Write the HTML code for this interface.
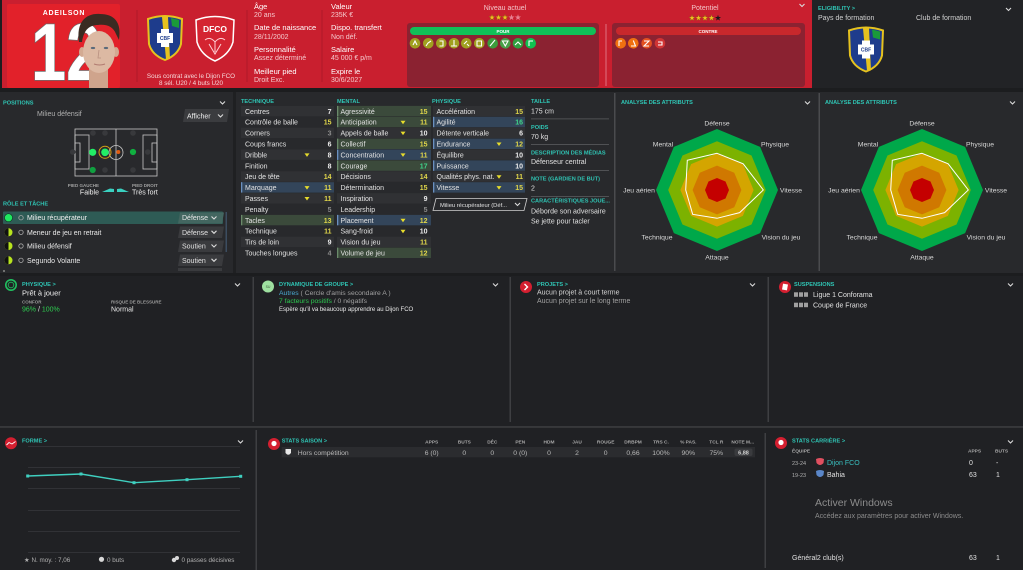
<!DOCTYPE html>
<html><head><meta charset="utf-8">
<style>
html,body{margin:0;padding:0;background:#1c1d1f;width:1023px;height:570px;overflow:hidden}
svg{display:block;font-family:"Liberation Sans","DejaVu Sans",sans-serif}
.t{fill:#2fc4b4;font-weight:bold;font-size:5.6px}
.a{font-size:7px;fill:#e2e2e2}
.v{font-size:7px;text-anchor:end;font-weight:bold}
.vw{fill:#ececec}.vy{fill:#e0d64a}.vg{fill:#3fd58a}.vx{fill:#8c8c8c}
.hl{font-size:7.5px;fill:#ffffff}
.hv{font-size:7px;fill:#f5c8cc}
.rl{font-size:6.8px;fill:#d8d8d8;text-anchor:middle}
.sh{font-size:4.8px;font-weight:bold;fill:#a8a8a8;text-anchor:middle}
.sv{font-size:6.8px;fill:#b8b8b8;text-anchor:middle}
.ch{fill:none;stroke:#dcdcdc;stroke-width:1.1}
</style></head><body>
<svg width="1023" height="570" viewBox="0 0 1023 570">
<defs>
<path id="st" d="M0,-3.2 L0.76,-1.05 L3.04,-0.99 L1.24,0.4 L1.88,2.59 L0,1.3 L-1.88,2.59 L-1.24,0.4 L-3.04,-0.99 L-0.76,-1.05Z"/>
<clipPath id="half"><rect x="508" y="12" width="3.5" height="12"/></clipPath>
</defs>
<rect x="0" y="0" width="1023" height="570" fill="#1c1d1f"/>

<!-- HEADER -->
<rect x="2" y="0" width="808" height="88" fill="#c91f2f"/>
<rect x="7" y="4" width="113" height="84" rx="2" fill="#e2212a"/>
<text x="64" y="15" text-anchor="middle" font-size="7" font-weight="bold" letter-spacing="0.8" fill="#ffffff">ADEILSON</text>
<text transform="translate(31,80) scale(0.78,1)" font-size="81" font-weight="bold" fill="#ffffff" stroke="#6b6b6b" stroke-width="1.5" paint-order="stroke">12</text>
<!-- face -->
<rect x="89" y="66" width="19" height="22" fill="#cfa48c"/>
<ellipse cx="82" cy="52" rx="3" ry="5" fill="#d3aa92"/>
<ellipse cx="116" cy="52" rx="3" ry="5" fill="#d3aa92"/>
<ellipse cx="99" cy="52" rx="16" ry="21" fill="#dcb9a3"/>
<path d="M79,42 C76,22 86,13 100,14 C114,14 122,22 119,40 L116,34 C113,26 106,24 98,25 C90,25 84,29 82,42 Z" fill="#3a2b22"/>
<ellipse cx="93" cy="48" rx="2.2" ry="1.1" fill="#5a6a7a"/>
<ellipse cx="106" cy="48" rx="2.2" ry="1.1" fill="#5a6a7a"/>
<path d="M99,50 L98,58 L101,58" fill="none" stroke="#b89080" stroke-width="0.8"/>
<path d="M94,64 Q99.5,66 105,64" fill="none" stroke="#b07a70" stroke-width="1"/>
<!-- separators -->
<rect x="136.5" y="10" width="1" height="72" fill="#b01a28"/>
<rect x="246.5" y="10" width="1" height="72" fill="#b01a28"/>
<rect x="321.5" y="10" width="1" height="72" fill="#b01a28"/>
<!-- Brazil crest -->
<g transform="translate(165,38)">
<path d="M-17,-19 Q0,-25 17,-19 L16,6 Q13,17 0,22 Q-13,17 -16,6 Z" fill="#1e3c8c" stroke="#e6c21e" stroke-width="2"/>
<path d="M-3,-21 L3,-21 L5,21 L1,21 Z" fill="#e6c21e"/>
<path d="M6,-20 L14,-18 L14,-10 L7,-12 Z" fill="#1a9a3a"/>
<rect x="-8" y="-5" width="16" height="10" fill="#ffffff"/>
<rect x="-4" y="-9" width="8" height="18" fill="#ffffff"/>
<text x="0" y="2" text-anchor="middle" font-size="5" font-weight="bold" fill="#1e3c8c">CBF</text>
</g>
<!-- Dijon crest -->
<g transform="translate(215,38)">
<path d="M-19,-18 Q0,-25 19,-18 L18,4 Q14,17 0,23 Q-14,17 -18,4 Z" fill="#d42431" stroke="#ffffff" stroke-width="1.5"/>
<text x="0" y="-6" text-anchor="middle" font-size="8.5" font-weight="bold" fill="#ffffff">DFCO</text>
<path d="M-10,2 Q-5,-2 0,4 Q5,-2 10,2 M-6,6 L0,16 L6,6 M0,4 L0,14" fill="none" stroke="#ffd0d4" stroke-width="1"/>
</g>
<text x="191" y="78" text-anchor="middle" font-size="6.3" fill="#f6d8da">Sous contrat avec le Dijon FCO</text>
<text x="191" y="85" text-anchor="middle" font-size="6.3" fill="#f6d8da">8 sél. U20 / 4 buts U20</text>
<!-- info columns -->
<text x="254" y="9" class="hl">Âge</text>
<text x="254" y="17" class="hv">20 ans</text>
<text x="254" y="30" class="hl">Date de naissance</text>
<text x="254" y="39" class="hv">28/11/2002</text>
<text x="254" y="52" class="hl">Personnalité</text>
<text x="254" y="60" class="hv">Assez déterminé</text>
<text x="254" y="74" class="hl">Meilleur pied</text>
<text x="254" y="82" class="hv">Droit Exc.</text>
<text x="331" y="9" class="hl">Valeur</text>
<text x="331" y="17" class="hv">235K €</text>
<text x="331" y="30" class="hl">Dispo. transfert</text>
<text x="331" y="39" class="hv">Non déf.</text>
<text x="331" y="52" class="hl">Salaire</text>
<text x="331" y="60" class="hv">45 000 € p/m</text>
<text x="331" y="74" class="hl">Expire le</text>
<text x="331" y="82" class="hv">30/6/2027</text>
<!-- Niveau / Potentiel -->
<text x="505" y="10" text-anchor="middle" font-size="7" fill="#f3c4c8">Niveau actuel</text>
<text x="705" y="10" text-anchor="middle" font-size="7" fill="#f3c4c8">Potentiel</text>
<g fill="#f0c020" stroke="#7a5a10" stroke-width="0.3">
<use href="#st" x="492" y="17.5"/><use href="#st" x="498.5" y="17.5"/><use href="#st" x="505" y="17.5"/>
</g>
<use href="#st" x="511.5" y="17.5" fill="#e88090"/>
<use href="#st" x="511.5" y="17.5" fill="#f0c020" clip-path="url(#half)"/>
<use href="#st" x="518" y="17.5" fill="#e88090"/>
<g fill="#f0c020" stroke="#7a5a10" stroke-width="0.3">
<use href="#st" x="692" y="18"/><use href="#st" x="698.5" y="18"/><use href="#st" x="705" y="18"/><use href="#st" x="711.5" y="18"/>
</g>
<use href="#st" x="718" y="18" fill="#1a1a1a"/>
<path d="M799.5,4 L802,6.5 L804.5,4" class="ch"/>
<!-- POUR / CONTRE -->
<rect x="407" y="23" width="192" height="64" rx="3" fill="#8b2231"/>
<rect x="612" y="23" width="193" height="64" rx="3" fill="#8b2231"/>
<rect x="605.5" y="24" width="1" height="62" fill="#e07080"/>
<rect x="410" y="27" width="186" height="8" rx="4" fill="#10c058"/>
<text x="503" y="33" text-anchor="middle" font-size="4.5" font-weight="bold" fill="#ffffff">POUR</text>
<rect x="616" y="27" width="185" height="8" rx="4" fill="#c8282c"/>
<text x="708" y="33" text-anchor="middle" font-size="4.5" font-weight="bold" fill="#ffffff">CONTRE</text>
<g>
<circle cx="415" cy="43.3" r="5.3" fill="#a0a020"/>
<circle cx="428.3" cy="43.3" r="5.3" fill="#a0a020"/>
<circle cx="441.3" cy="43.3" r="5.3" fill="#a0a020"/>
<circle cx="454" cy="43.3" r="5.3" fill="#a0a020"/>
<circle cx="466.3" cy="43.3" r="5.3" fill="#a0a020"/>
<circle cx="479.3" cy="43.3" r="5.3" fill="#a0a020"/>
<circle cx="492.7" cy="43.3" r="5.3" fill="#3c9c3c"/>
<circle cx="505.3" cy="43.3" r="5.3" fill="#48a048"/>
<circle cx="518" cy="43.3" r="5.3" fill="#30a040"/>
<circle cx="530.7" cy="43.3" r="5.3" fill="#10c050"/>
<circle cx="620.7" cy="43.3" r="5.3" fill="#f07010"/>
<circle cx="633.3" cy="43.3" r="5.3" fill="#f07010"/>
<circle cx="646.7" cy="43.3" r="5.3" fill="#e45020"/>
<circle cx="660" cy="43.3" r="5.3" fill="#d03434"/>
</g>
<g fill="none" stroke="#ffffff" stroke-width="1.1">
<path d="M413,45 L415,41 L417,45"/><path d="M426,46 L428,43 L431,41"/><path d="M439.5,41 L443,41 L443,46 L439.5,46"/>
<path d="M454,40 L454,46 M451,46 L457,46"/><path d="M464,44 L467,41 M467,44 L469,46"/><path d="M477,41 L481.5,41 L481.5,46 L477,46 Z"/>
<path d="M490,46 L495,40"/><path d="M502.5,41 L508,41 L505.3,46 Z"/><path d="M515,45 L518,42 L521,45"/><path d="M529,46 L529,41 L533,41"/>
<path d="M619,46 L619,41 L622,41"/><path d="M631,46 L635.5,46 L633.3,40.5"/><path d="M644,41 L649,41 L644,46 L649,46"/><path d="M658,42 L662,42 L662,45 L658,45"/>
</g>

<!-- ELIGIBILITY -->
<rect x="812" y="0" width="211" height="88" fill="#222326"/>
<rect x="810" y="0" width="2" height="88" fill="#c91f2f"/>
<text x="818" y="10" class="t">ELIGIBILITY &gt;</text>
<path d="M1006,8 L1008.5,10.5 L1011,8" class="ch"/>
<text x="818" y="20" font-size="7" fill="#d0d0d0">Pays de formation</text>
<text x="916" y="20" font-size="7" fill="#d0d0d0">Club de formation</text>
<g transform="translate(866,49.5)">
<path d="M-17,-19 Q0,-25 17,-19 L16,6 Q13,17 0,22 Q-13,17 -16,6 Z" fill="#1e3c8c" stroke="#e6c21e" stroke-width="2"/>
<path d="M-3,-21 L3,-21 L5,21 L1,21 Z" fill="#e6c21e"/>
<path d="M6,-20 L14,-18 L14,-10 L7,-12 Z" fill="#1a9a3a"/>
<rect x="-8" y="-5" width="16" height="10" fill="#ffffff"/>
<rect x="-4" y="-9" width="8" height="18" fill="#ffffff"/>
<text x="0" y="2" text-anchor="middle" font-size="5" font-weight="bold" fill="#1e3c8c">CBF</text>
</g>

<!-- TOP ROW -->
<rect x="0" y="92" width="1023" height="181" fill="#28292c"/>
<rect x="233" y="92" width="3" height="181" fill="#1f2022"/>
<rect x="614" y="93" width="1.5" height="178" fill="#4a4b4e"/>
<rect x="818.5" y="93" width="1.5" height="178" fill="#4a4b4e"/>

<!-- POSITIONS -->
<text x="3" y="104.5" class="t">POSITIONS</text>
<path d="M220,101.5 L222.5,104 L225,101.5" class="ch"/>
<text x="37" y="116" font-size="7" fill="#b0b0b0">Milieu défensif</text>
<path d="M185,109 L229,109 L227,122 L183,122 Z" fill="#3b3c3f"/>
<text x="187" y="118.5" font-size="7" fill="#f0f0f0">Afficher</text>
<path d="M218,114.5 L220.5,117 L223,114.5" class="ch"/>
<g fill="none" stroke="#c8c8c8" stroke-width="0.8">
<rect x="75" y="129" width="82" height="47"/>
<line x1="116" y1="129" x2="116" y2="176"/>
<circle cx="116" cy="152.5" r="7"/>
<rect x="75" y="135" width="14" height="34"/>
<rect x="75" y="143" width="5" height="19"/>
<rect x="143" y="135" width="14" height="34"/>
<rect x="152" y="143" width="5" height="19"/>
</g>
<g fill="#38393c">
<circle cx="93" cy="133" r="2.8"/><circle cx="105" cy="133" r="2.8"/><circle cx="133" cy="133" r="2.8"/>
<circle cx="72.7" cy="152" r="2.8"/><circle cx="147.7" cy="152" r="2.8"/>
<circle cx="105" cy="170" r="2.8"/><circle cx="133" cy="170" r="2.8"/>
</g>
<circle cx="105" cy="152.3" r="6" fill="none" stroke="#d4a017" stroke-width="1"/>
<circle cx="92.7" cy="152.3" r="3.6" fill="#22ee66"/>
<circle cx="105" cy="152.3" r="3.8" fill="#22ee66"/>
<circle cx="118.3" cy="152" r="2" fill="#e05a10"/>
<circle cx="133" cy="152" r="3.1" fill="#10b040"/>
<circle cx="92.7" cy="170" r="3.1" fill="#10a040"/>
<text x="99" y="187" text-anchor="end" font-size="4.5" font-weight="bold" fill="#a0a0a0">PIED GAUCHE</text>
<text x="99" y="194.5" text-anchor="end" font-size="7" fill="#f0f0f0">Faible</text>
<text x="132" y="187" font-size="4.5" font-weight="bold" fill="#a0a0a0">PIED DROIT</text>
<text x="132" y="194.5" font-size="7" fill="#f0f0f0">Très fort</text>
<path d="M102,192 L110,188.5 L114,189 L114,192 Z" fill="#3ad0c0"/>
<path d="M117,189 L121,188.5 L129,192 L117,192 Z" fill="#3ad0c0"/>
<text x="3" y="205.5" class="t">RÔLE ET TÂCHE</text>
<rect x="3" y="211.5" width="220" height="12.5" rx="1" fill="#2e5b55"/>
<circle cx="8.5" cy="217.7" r="4" fill="#20e860" stroke="#0a3a20" stroke-width="0.6"/>
<circle cx="21" cy="217.7" r="2.2" fill="none" stroke="#a8a8a8" stroke-width="0.8"/>
<text x="27" y="220.2" font-size="7" fill="#f0f0f0">Milieu récupérateur</text>
<path d="M180,212.5 L224,212.5 L222,223.5 L178,223.5 Z" fill="#436660"/>
<text x="182" y="220.2" font-size="7" fill="#e8e8e8">Défense</text>
<path d="M211.5,216.5 L214,219 L216.5,216.5" class="ch"/>
<g>
<circle cx="8.5" cy="232.3" r="4" fill="#b8e41e"/><path d="M8.5,228.3 A4,4 0 0 0 8.5,236.3 Z" fill="#111"/>
<circle cx="8.5" cy="246" r="4" fill="#b8e41e"/><path d="M8.5,242 A4,4 0 0 0 8.5,250 Z" fill="#111"/>
<circle cx="8.5" cy="260.3" r="4" fill="#b8e41e"/><path d="M8.5,256.3 A4,4 0 0 0 8.5,264.3 Z" fill="#111"/>
</g>
<g fill="none" stroke="#a8a8a8" stroke-width="0.8">
<circle cx="21" cy="232.3" r="2.2"/><circle cx="21" cy="246" r="2.2"/><circle cx="21" cy="260.3" r="2.2"/>
</g>
<text x="27" y="234.8" font-size="7" fill="#e8e8e8">Meneur de jeu en retrait</text>
<text x="27" y="248.5" font-size="7" fill="#e8e8e8">Milieu défensif</text>
<text x="27" y="262.8" font-size="7" fill="#e8e8e8">Segundo Volante</text>
<g fill="#3a3b3e">
<path d="M180,226.5 L224,226.5 L222,238 L178,238 Z"/>
<path d="M180,240.5 L224,240.5 L222,252 L178,252 Z"/>
<path d="M180,254.5 L224,254.5 L222,266 L178,266 Z"/>
<rect x="178" y="268" width="44" height="3" />
</g>
<text x="182" y="234.8" font-size="7" fill="#e0e0e0">Défense</text>
<text x="182" y="248.5" font-size="7" fill="#e0e0e0">Soutien</text>
<text x="182" y="262.8" font-size="7" fill="#e0e0e0">Soutien</text>
<path d="M211.5,230.8 L214,233.3 L216.5,230.8" class="ch"/>
<path d="M211.5,244.5 L214,247 L216.5,244.5" class="ch"/>
<path d="M211.5,258.8 L214,261.3 L216.5,258.8" class="ch"/>
<rect x="225.5" y="212" width="1.5" height="40" fill="#3c4d60"/>
<circle cx="4" cy="271" r="1" fill="#888"/>

<!-- ATTRIBUTES -->
<text x="241" y="103" class="t">TECHNIQUE</text>
<text x="337" y="103" class="t">MENTAL</text>
<text x="432" y="103" class="t">PHYSIQUE</text>
<text x="531" y="103" class="t">TAILLE</text>
<!-- row backgrounds technique -->
<g fill="#303134">
<rect x="241" y="105.9" width="93" height="10.4"/><rect x="241" y="127.7" width="93" height="10.4"/><rect x="241" y="149.5" width="93" height="10.4"/><rect x="241" y="171.3" width="93" height="10.4"/><rect x="241" y="193.1" width="93" height="10.4"/><rect x="241" y="236.7" width="93" height="10.4"/>
<rect x="337" y="127.7" width="94" height="10.4"/><rect x="337" y="171.3" width="94" height="10.4"/><rect x="337" y="193.1" width="94" height="10.4"/><rect x="337" y="236.7" width="94" height="10.4"/>
<rect x="433" y="105.9" width="92" height="10.4"/><rect x="433" y="127.7" width="92" height="10.4"/><rect x="433" y="149.5" width="92" height="10.4"/><rect x="433" y="171.3" width="92" height="10.4"/>
</g>
<g fill="#3b4a3b">
<rect x="241" y="214.9" width="93" height="10.4"/>
<rect x="337" y="105.9" width="94" height="10.4"/><rect x="337" y="116.8" width="94" height="10.4"/><rect x="337" y="138.6" width="94" height="10.4"/><rect x="337" y="160.4" width="94" height="10.4"/><rect x="337" y="247.6" width="94" height="10.4"/>
</g>
<g fill="#33455a">
<rect x="241" y="182.2" width="93" height="10.4"/>
<rect x="337" y="149.5" width="94" height="10.4"/><rect x="337" y="214.9" width="94" height="10.4"/>
<rect x="433" y="116.8" width="92" height="10.4"/><rect x="433" y="138.6" width="92" height="10.4"/><rect x="433" y="160.4" width="92" height="10.4"/><rect x="433" y="182.2" width="92" height="10.4"/>
</g>
<g fill="#6a8a6a">
<rect x="241" y="214.9" width="1.3" height="10.4"/>
<rect x="337" y="105.9" width="1.3" height="10.4"/><rect x="337" y="116.8" width="1.3" height="10.4"/><rect x="337" y="138.6" width="1.3" height="10.4"/><rect x="337" y="160.4" width="1.3" height="10.4"/><rect x="337" y="247.6" width="1.3" height="10.4"/>
</g>
<g fill="#6a90c0">
<rect x="241" y="182.2" width="1.3" height="10.4"/>
<rect x="337" y="149.5" width="1.3" height="10.4"/><rect x="337" y="214.9" width="1.3" height="10.4"/>
<rect x="433" y="116.8" width="1.3" height="10.4"/><rect x="433" y="138.6" width="1.3" height="10.4"/><rect x="433" y="160.4" width="1.3" height="10.4"/><rect x="433" y="182.2" width="1.3" height="10.4"/>
</g>
<!-- technique text -->
<g class="a">
<text x="245" y="113.8">Centres</text>
<text x="245" y="124.7">Contrôle de balle</text>
<text x="245" y="135.6">Corners</text>
<text x="245" y="146.5">Coups francs</text>
<text x="245" y="157.4">Dribble</text>
<text x="245" y="168.3">Finition</text>
<text x="245" y="179.2">Jeu de tête</text>
<text x="245" y="190.1">Marquage</text>
<text x="245" y="201">Passes</text>
<text x="245" y="211.9">Penalty</text>
<text x="245" y="222.8">Tacles</text>
<text x="245" y="233.7">Technique</text>
<text x="245" y="244.6">Tirs de loin</text>
<text x="245" y="255.5">Touches longues</text>
</g>
<text x="331.5" y="113.8" class="v vw">7</text>
<text x="331.5" y="124.7" class="v vy">15</text>
<text x="331.5" y="135.6" class="v vx">3</text>
<text x="331.5" y="146.5" class="v vw">6</text>
<text x="331.5" y="157.4" class="v vw">8</text>
<text x="331.5" y="168.3" class="v vw">8</text>
<text x="331.5" y="179.2" class="v vy">14</text>
<text x="331.5" y="190.1" class="v vy">11</text>
<text x="331.5" y="201" class="v vy">11</text>
<text x="331.5" y="211.9" class="v vx">5</text>
<text x="331.5" y="222.8" class="v vy">13</text>
<text x="331.5" y="233.7" class="v vy">11</text>
<text x="331.5" y="244.6" class="v vw">9</text>
<text x="331.5" y="255.5" class="v vx">4</text>
<!-- mental text -->
<g class="a">
<text x="340.5" y="113.8">Agressivité</text>
<text x="340.5" y="124.7">Anticipation</text>
<text x="340.5" y="135.6">Appels de balle</text>
<text x="340.5" y="146.5">Collectif</text>
<text x="340.5" y="157.4">Concentration</text>
<text x="340.5" y="168.3">Courage</text>
<text x="340.5" y="179.2">Décisions</text>
<text x="340.5" y="190.1">Détermination</text>
<text x="340.5" y="201">Inspiration</text>
<text x="340.5" y="211.9">Leadership</text>
<text x="340.5" y="222.8">Placement</text>
<text x="340.5" y="233.7">Sang-froid</text>
<text x="340.5" y="244.6">Vision du jeu</text>
<text x="340.5" y="255.5">Volume de jeu</text>
</g>
<text x="427.5" y="113.8" class="v vy">15</text>
<text x="427.5" y="124.7" class="v vy">11</text>
<text x="427.5" y="135.6" class="v vw">10</text>
<text x="427.5" y="146.5" class="v vy">15</text>
<text x="427.5" y="157.4" class="v vy">11</text>
<text x="427.5" y="168.3" class="v vg">17</text>
<text x="427.5" y="179.2" class="v vy">14</text>
<text x="427.5" y="190.1" class="v vy">15</text>
<text x="427.5" y="201" class="v vw">9</text>
<text x="427.5" y="211.9" class="v vx">5</text>
<text x="427.5" y="222.8" class="v vy">12</text>
<text x="427.5" y="233.7" class="v vw">10</text>
<text x="427.5" y="244.6" class="v vy">11</text>
<text x="427.5" y="255.5" class="v vy">12</text>
<!-- physique text -->
<g class="a">
<text x="436.5" y="113.8">Accélération</text>
<text x="436.5" y="124.7">Agilité</text>
<text x="436.5" y="135.6">Détente verticale</text>
<text x="436.5" y="146.5">Endurance</text>
<text x="436.5" y="157.4">Équilibre</text>
<text x="436.5" y="168.3">Puissance</text>
<text x="436.5" y="179.2">Qualités phys. nat.</text>
<text x="436.5" y="190.1">Vitesse</text>
</g>
<text x="523" y="113.8" class="v vy">15</text>
<text x="523" y="124.7" class="v vg">16</text>
<text x="523" y="135.6" class="v vw">6</text>
<text x="523" y="146.5" class="v vy">12</text>
<text x="523" y="157.4" class="v vw">10</text>
<text x="523" y="168.3" class="v vw">10</text>
<text x="523" y="179.2" class="v vy">11</text>
<text x="523" y="190.1" class="v vy">15</text>
<!-- arrows -->
<g fill="#e6dc2c">
<path d="M304.5,153.4 L309.5,153.4 L307,156.9 Z"/>
<path d="M304.5,186.1 L309.5,186.1 L307,189.6 Z"/>
<path d="M304.5,197 L309.5,197 L307,200.5 Z"/>
<path d="M400.5,120.7 L405.5,120.7 L403,124.2 Z"/>
<path d="M400.5,131.6 L405.5,131.6 L403,135.1 Z"/>
<path d="M400.5,153.4 L405.5,153.4 L403,156.9 Z"/>
<path d="M400.5,218.8 L405.5,218.8 L403,222.3 Z"/>
<path d="M400.5,229.7 L405.5,229.7 L403,233.2 Z"/>
<path d="M496.5,142.5 L501.5,142.5 L499,146 Z"/>
<path d="M496.5,175.2 L501.5,175.2 L499,178.7 Z"/>
<path d="M496.5,186.1 L501.5,186.1 L499,189.6 Z"/>
</g>
<path d="M436,198.5 L527,198.5 L524,210.5 L433,210.5 Z" fill="none" stroke="#d0d0d0" stroke-width="0.8"/>
<text x="440" y="206.8" font-size="5.8" fill="#e0e0e0">Milieu récupérateur (Déf...</text>
<path d="M515,203 L517.5,205.5 L520,203" class="ch"/>
<!-- info col -->
<text x="531" y="113.5" font-size="7" fill="#e0e0e0">175 cm</text>
<rect x="531" y="118.5" width="78" height="0.8" fill="#5a5b5e"/>
<text x="531" y="129" class="t">POIDS</text>
<text x="531" y="139" font-size="7" fill="#e0e0e0">70 kg</text>
<rect x="531" y="144" width="78" height="0.8" fill="#5a5b5e"/>
<text x="531" y="154.3" class="t">DESCRIPTION DES MÉDIAS</text>
<text x="531" y="164" font-size="7" fill="#e0e0e0">Défenseur central</text>
<rect x="531" y="170" width="78" height="0.8" fill="#5a5b5e"/>
<text x="531" y="180.5" class="t">NOTE (GARDIEN DE BUT)</text>
<text x="531" y="190.5" font-size="7" fill="#e0e0e0">2</text>
<rect x="531" y="196" width="78" height="0.8" fill="#5a5b5e"/>
<text x="531" y="202.3" class="t">CARACTÉRISTIQUES JOUE...</text>
<text x="531" y="213.7" font-size="7" fill="#e0e0e0">Déborde son adversaire</text>
<text x="531" y="223.5" font-size="7" fill="#e0e0e0">Se jette pour tacler</text>

<!-- RADARS -->
<text x="621" y="104" class="t">ANALYSE DES ATTRIBUTS</text>
<path d="M805,101.5 L807.5,104 L810,101.5" class="ch"/>
<text x="825" y="104" class="t">ANALYSE DES ATTRIBUTS</text>
<path d="M1010,101.5 L1012.5,104 L1015,101.5" class="ch"/>
<g transform="translate(717,190)">
<polygon points="0,-61 43.13,-43.13 61,0 43.13,43.13 0,61 -43.13,43.13 -61,0 -43.13,-43.13" fill="#00a84a"/>
<polygon points="0,-48.8 34.51,-34.51 48.8,0 34.51,34.51 0,48.8 -34.51,34.51 -48.8,0 -34.51,-34.51" fill="#7cb200"/>
<polygon points="0,-36.6 25.88,-25.88 36.6,0 25.88,25.88 0,36.6 -25.88,25.88 -36.6,0 -25.88,-25.88" fill="#d4a500"/>
<polygon points="0,-24.4 17.25,-17.25 24.4,0 17.25,17.25 0,24.4 -17.25,17.25 -24.4,0 -17.25,-17.25" fill="#d07800"/>
<polygon points="0,-12 8.5,-8.5 12,0 8.5,8.5 0,12 -8.5,8.5 -12,0 -8.5,-8.5" fill="#c40000"/>
<polygon points="0,-36.7 26.16,-26.16 46.3,0 22.63,22.63 0,28.3 -24.32,24.32 -31.3,0 -29.7,-29.7" fill="none" stroke="#ffffff" stroke-width="1"/>
</g>
<g transform="translate(922,190)">
<polygon points="0,-61 43.13,-43.13 61,0 43.13,43.13 0,61 -43.13,43.13 -61,0 -43.13,-43.13" fill="#00a84a"/>
<polygon points="0,-48.8 34.51,-34.51 48.8,0 34.51,34.51 0,48.8 -34.51,34.51 -48.8,0 -34.51,-34.51" fill="#7cb200"/>
<polygon points="0,-36.6 25.88,-25.88 36.6,0 25.88,25.88 0,36.6 -25.88,25.88 -36.6,0 -25.88,-25.88" fill="#d4a500"/>
<polygon points="0,-24.4 17.25,-17.25 24.4,0 17.25,17.25 0,24.4 -17.25,17.25 -24.4,0 -17.25,-17.25" fill="#d07800"/>
<polygon points="0,-12 8.5,-8.5 12,0 8.5,8.5 0,12 -8.5,8.5 -12,0 -8.5,-8.5" fill="#c40000"/>
<polygon points="0,-36.7 26.16,-26.16 46.3,0 22.63,22.63 0,28.3 -24.32,24.32 -31.3,0 -29.7,-29.7" fill="none" stroke="#ffffff" stroke-width="1"/>
</g>
<text x="717" y="125.5" class="rl">Défense</text>
<text x="775" y="146.5" class="rl">Physique</text>
<text x="791" y="192.5" class="rl">Vitesse</text>
<text x="781" y="239.5" class="rl">Vision du jeu</text>
<text x="717" y="259.5" class="rl">Attaque</text>
<text x="657" y="239.5" class="rl">Technique</text>
<text x="639" y="192.5" class="rl">Jeu aérien</text>
<text x="663" y="146.5" class="rl">Mental</text>
<text x="922" y="125.5" class="rl">Défense</text>
<text x="980" y="146.5" class="rl">Physique</text>
<text x="996" y="192.5" class="rl">Vitesse</text>
<text x="986" y="239.5" class="rl">Vision du jeu</text>
<text x="922" y="259.5" class="rl">Attaque</text>
<text x="862" y="239.5" class="rl">Technique</text>
<text x="844" y="192.5" class="rl">Jeu aérien</text>
<text x="868" y="146.5" class="rl">Mental</text>

<!-- MIDDLE ROW -->
<rect x="0" y="276" width="1023" height="151" fill="#202124"/>
<rect x="0" y="426.5" width="1023" height="1" fill="#4e4f52"/>
<rect x="252.5" y="277" width="1.5" height="145" fill="#3e3f42"/>
<rect x="509.5" y="277" width="1.5" height="145" fill="#3e3f42"/>
<rect x="767.5" y="277" width="1.5" height="145" fill="#3e3f42"/>
<!-- physique -->
<circle cx="11" cy="285" r="5.2" fill="none" stroke="#20c060" stroke-width="1.6"/>
<circle cx="11" cy="285" r="2.8" fill="none" stroke="#20c060" stroke-width="0.8"/>
<text x="22" y="286" class="t">PHYSIQUE &gt;</text>
<path d="M235,283.5 L237.5,286 L240,283.5" class="ch"/>
<text x="22" y="295.5" font-size="7.5" fill="#f0f0f0">Prêt à jouer</text>
<text x="22" y="303.5" font-size="4.5" font-weight="bold" fill="#9a9a9a">CONFOR</text>
<text x="22" y="311.5" font-size="7" fill="#2ecc50">96% <tspan fill="#e0e0e0">/</tspan> 100%</text>
<text x="111" y="303.5" font-size="4.5" font-weight="bold" fill="#9a9a9a">RISQUE DE BLESSURE</text>
<text x="111" y="311.5" font-size="7" fill="#e8e8e8">Normal</text>
<!-- dynamique -->
<circle cx="268" cy="286.5" r="6" fill="#9ee0a0"/>
<text x="268" y="288" text-anchor="middle" font-size="3.5" fill="#3a5a3a">SU</text>
<text x="279" y="286" class="t">DYNAMIQUE DE GROUPE &gt;</text>
<path d="M493,283.5 L495.5,286 L498,283.5" class="ch"/>
<text x="279" y="295" font-size="6.8" fill="#4aa8d0">Autres <tspan fill="#a0a0a0">( Cercle d'amis secondaire A )</tspan></text>
<text x="279" y="303" font-size="6.8" fill="#2ec850">7 facteurs positifs <tspan fill="#a0a0a0">/ 0 négatifs</tspan></text>
<text x="279" y="311" font-size="6" fill="#e8e8e8">Espère qu'il va beaucoup apprendre au Dijon FCO</text>
<!-- projets -->
<circle cx="526" cy="287" r="6" fill="#d41f30"/>
<path d="M524.5,284 L527.5,287 L524.5,290" fill="none" stroke="#fff" stroke-width="1.4"/>
<text x="537" y="286" class="t">PROJETS &gt;</text>
<path d="M750,283.5 L752.5,286 L755,283.5" class="ch"/>
<text x="537" y="294.5" font-size="7" fill="#d4d4d4">Aucun projet à court terme</text>
<text x="537" y="303" font-size="7" fill="#a0a0a0">Aucun projet sur le long terme</text>
<!-- suspensions -->
<circle cx="785" cy="287" r="6" fill="#d41f30"/>
<rect x="782.5" y="284" width="5" height="6" fill="#fff" transform="rotate(10 785 287)"/>
<text x="794" y="286" class="t">SUSPENSIONS</text>
<path d="M1008,283.5 L1010.5,286 L1013,283.5" class="ch"/>
<g fill="#a0a0a0">
<rect x="794" y="292.3" width="4" height="4.5"/><rect x="799" y="292.3" width="4" height="4.5"/><rect x="804" y="292.3" width="4" height="4.5"/>
<rect x="794" y="302.7" width="4" height="4.5"/><rect x="799" y="302.7" width="4" height="4.5"/><rect x="804" y="302.7" width="4" height="4.5"/>
</g>
<text x="813" y="297" font-size="7" fill="#e0e0e0">Ligue 1 Conforama</text>
<text x="813" y="307.5" font-size="7" fill="#e0e0e0">Coupe de France</text>

<!-- BOTTOM ROW -->
<rect x="0" y="428" width="1023" height="142" fill="#202124"/>
<rect x="255.5" y="430" width="1.5" height="140" fill="#3e3f42"/>
<rect x="764.5" y="433" width="1.5" height="135" fill="#3e3f42"/>
<!-- forme -->
<circle cx="11" cy="443.3" r="6" fill="#d41f30"/>
<path d="M6.5,445 L9,442.5 L12,444 L15.5,441.5" fill="none" stroke="#fff" stroke-width="0.9"/>
<text x="22" y="442.5" class="t">FORME &gt;</text>
<path d="M238,440.5 L240.5,443 L243,440.5" class="ch"/>
<g fill="#36373a">
<rect x="28" y="446" width="212" height="0.8"/><rect x="28" y="467" width="212" height="0.8"/><rect x="28" y="488" width="212" height="0.8"/>
<rect x="28" y="510" width="212" height="0.8"/><rect x="28" y="531" width="212" height="0.8"/><rect x="28" y="552" width="212" height="0.8"/>
</g>
<polyline points="27.7,476 81,474 134,482.7 187,479.7 240.7,476.3" fill="none" stroke="#3fd0c0" stroke-width="1.4"/>
<g fill="#3fd0c0">
<rect x="26.2" y="474.5" width="3" height="3"/><rect x="79.5" y="472.5" width="3" height="3"/><rect x="132.5" y="481.2" width="3" height="3"/><rect x="185.5" y="478.2" width="3" height="3"/><rect x="239.2" y="474.8" width="3" height="3"/>
</g>
<g font-size="6.3" fill="#b0b0b0">
<text x="24" y="561.8">★</text>
<text x="31.5" y="561.8">N. moy. : 7,06</text>
<circle cx="101.5" cy="559.3" r="2.6" fill="#d8d8d8"/>
<text x="107" y="561.8">0 buts</text>
<circle cx="174" cy="560" r="2.2" fill="#d8d8d8"/><circle cx="177" cy="558" r="2" fill="#d8d8d8"/>
<text x="181.5" y="561.8">0 passes décisives</text>
</g>
<!-- stats saison -->
<circle cx="274" cy="444" r="6" fill="#d41f30"/>
<circle cx="274" cy="443.5" r="2.6" fill="#fff"/>
<text x="281.7" y="442.5" class="t">STATS SAISON &gt;</text>
<text x="431.7" y="443.5" class="sh">APPS</text>
<text x="464.3" y="443.5" class="sh">BUTS</text>
<text x="492.3" y="443.5" class="sh">DÉC</text>
<text x="520.3" y="443.5" class="sh">PEN</text>
<text x="549" y="443.5" class="sh">HDM</text>
<text x="577" y="443.5" class="sh">JAU</text>
<text x="605.7" y="443.5" class="sh">ROUGE</text>
<text x="633" y="443.5" class="sh">DRBPM</text>
<text x="661" y="443.5" class="sh">TRS C.</text>
<text x="688.3" y="443.5" class="sh">% PAS.</text>
<text x="716.3" y="443.5" class="sh">TCL R</text>
<text x="742.7" y="443.5" class="sh">NOTE M...</text>
<rect x="281.7" y="447" width="473.3" height="10.3" fill="#2b2c2f"/>
<path d="M285.5,449 L291,449 L291,453 Q288.3,456.5 285.5,453 Z" fill="#e8e8e8"/>
<text x="297.7" y="454.8" font-size="6.8" fill="#b8b8b8">Hors compétition</text>
<text x="431.7" y="454.8" class="sv">6 (0)</text>
<text x="464.3" y="454.8" class="sv">0</text>
<text x="492.3" y="454.8" class="sv">0</text>
<text x="520.3" y="454.8" class="sv">0 (0)</text>
<text x="549" y="454.8" class="sv">0</text>
<text x="577" y="454.8" class="sv">2</text>
<text x="605.7" y="454.8" class="sv">0</text>
<text x="633" y="454.8" class="sv">0,66</text>
<text x="661" y="454.8" class="sv">100%</text>
<text x="688.3" y="454.8" class="sv">90%</text>
<text x="716.3" y="454.8" class="sv">75%</text>
<rect x="734.5" y="448.5" width="18" height="7.5" rx="2" fill="#3a3b3e"/>
<text x="743.5" y="454.3" text-anchor="middle" font-size="5.5" font-weight="bold" fill="#d0d0d0">6,88</text>
<!-- stats carriere -->
<circle cx="781" cy="443" r="6" fill="#d41f30"/>
<circle cx="781" cy="442.5" r="2.6" fill="#fff"/>
<text x="792" y="442.5" class="t">STATS CARRIÈRE &gt;</text>
<path d="M1008,440.5 L1010.5,443 L1013,440.5" class="ch"/>
<text x="792" y="452.5" font-size="4.8" font-weight="bold" fill="#a8a8a8">ÉQUIPE</text>
<text x="968" y="452.5" font-size="4.8" font-weight="bold" fill="#a8a8a8">APPS</text>
<text x="995" y="452.5" font-size="4.8" font-weight="bold" fill="#a8a8a8">BUTS</text>
<text x="792" y="464.8" font-size="5.5" fill="#b0b0b0">23-24</text>
<path d="M816,459 Q820,457 824,459 L823.5,463 Q820,467 816.5,463 Z" fill="#e05060"/>
<text x="827" y="464.8" font-size="7" fill="#39c0c0">Dijon FCO</text>
<text x="969" y="464.8" font-size="7" fill="#e0e0e0">0</text>
<text x="996" y="464.8" font-size="7" fill="#e0e0e0">-</text>
<text x="792" y="476.8" font-size="5.5" fill="#b0b0b0">19-23</text>
<path d="M816,471 Q820,469 824,471 L823.5,475 Q820,479 816.5,475 Z" fill="#5a86c8"/>
<text x="827" y="476.8" font-size="7" fill="#e0e0e0">Bahia</text>
<text x="969" y="476.8" font-size="7" fill="#e0e0e0">63</text>
<text x="996" y="476.8" font-size="7" fill="#e0e0e0">1</text>
<text x="815" y="506" font-size="10.5" fill="#8c8c8c">Activer Windows</text>
<text x="815" y="518" font-size="7" fill="#8c8c8c">Accédez aux paramètres pour activer Windows.</text>
<text x="792" y="560" font-size="7" fill="#e0e0e0">Général2 club(s)</text>
<text x="969" y="560" font-size="7" fill="#e0e0e0">63</text>
<text x="996" y="560" font-size="7" fill="#e0e0e0">1</text>
</svg>
</body></html>
